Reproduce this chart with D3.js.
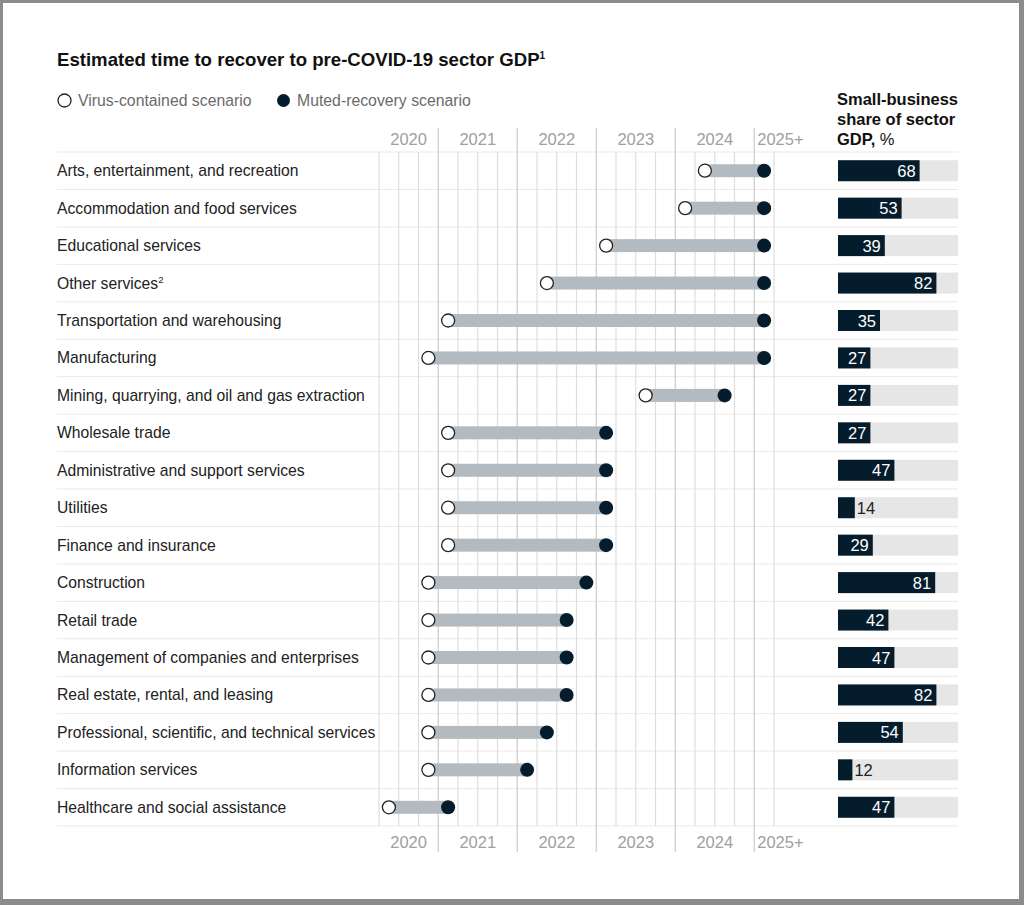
<!DOCTYPE html>
<html>
<head>
<meta charset="utf-8">
<script src="https://cdn.jsdelivr.net/npm/d3@7"></script>
<style>
  html, body { margin: 0; padding: 0; background: #fff; }
  svg { display: block; font-family: "Liberation Sans", Arial, sans-serif; }
</style>
</head>
<body>
<svg id="chart" width="1024" height="905"></svg>
<script>
// sectors, top to bottom
const sectors = [
  "Arts, entertainment, and recreation",
  "Accommodation and food services",
  "Educational services",
  "Other services",
  "Transportation and warehousing",
  "Manufacturing",
  "Mining, quarrying, and oil and gas extraction",
  "Wholesale trade",
  "Administrative and support services",
  "Utilities",
  "Finance and insurance",
  "Construction",
  "Retail trade",
  "Management of companies and enterprises",
  "Real estate, rental, and leasing",
  "Professional, scientific, and technical services",
  "Information services",
  "Healthcare and social assistance"
];
// recovery quarter, counted from Q2 2020 (0) ; 19 = 2025+
const virusQuarter = [16, 15, 11, 8, 3, 2, 13, 3, 3, 3, 3, 2, 2, 2, 2, 2, 2, 0];
const mutedQuarter = [19, 19, 19, 19, 19, 19, 17, 11, 11, 11, 11, 10, 9, 9, 9, 8, 7, 3];
// small-business share of sector GDP, %
const smallShare = [68, 53, 39, 82, 35, 27, 27, 27, 47, 14, 29, 81, 42, 47, 82, 54, 12, 47];
const yearLabels = ["2020", "2021", "2022", "2023", "2024", "2025+"];
const yearStart = [0, 3, 7, 11, 15, 19];
const yearEnd = [3, 7, 11, 15, 19, 20];

const dark = "#051c2c";
const connector = "#b3bbc0";

const svg = d3.select("#chart");

// frame
svg.append("rect").attr("x", 1.5).attr("y", 1.5).attr("width", 1019).attr("height", 899)
  .style("fill", "none").style("stroke", "#8c8c8c").style("stroke-width", 3);
svg.append("rect").attr("x", 1019).attr("y", 0).attr("width", 5).attr("height", 905).style("fill", "#8c8c8c");
svg.append("rect").attr("x", 0).attr("y", 899).attr("width", 1024).attr("height", 6).style("fill", "#8c8c8c");

// title
const title = svg.append("text").attr("x", 57).attr("y", 66)
  .style("font-size", "18.6px").style("font-weight", "bold").style("fill", "#111")
  .text("Estimated time to recover to pre-COVID-19 sector GDP");
title.append("tspan").attr("dy", -7).style("font-size", "10px").text("1");

// legend
const legend = svg.append("g");
legend.append("circle").attr("cx", 64.5).attr("cy", 100.5).attr("r", 6.5)
  .style("fill", "#fff").style("stroke", "#222").style("stroke-width", 1.3);
legend.append("text").attr("x", 78).attr("y", 106).style("font-size", "15.8px").style("fill", "#6b6b6b")
  .text("Virus-contained scenario");
legend.append("circle").attr("cx", 283.5).attr("cy", 100.5).attr("r", 6.5).style("fill", dark);
legend.append("text").attr("x", 297).attr("y", 106).style("font-size", "15.8px").style("fill", "#6b6b6b")
  .text("Muted-recovery scenario");

// scales
const x = d3.scaleLinear().domain([0, 20]).range([379, 774]);
const y = d3.scaleBand().domain(sectors).range([152, 826]);
const xs = d3.scaleLinear().domain([0, 100]).range([838, 958]);

// row separators
svg.append("g").selectAll("line")
  .data(d3.range(sectors.length + 1))
  .enter().append("line")
  .attr("x1", 57).attr("x2", 958)
  .attr("y1", i => 152 + i * y.step()).attr("y2", i => 152 + i * y.step())
  .style("stroke", "#e9e9e9").style("stroke-width", 1);

// quarter grid
svg.append("g").selectAll("line")
  .data(d3.range(21).filter(q => !yearStart.slice(1).includes(q)))
  .enter().append("line")
  .attr("x1", q => x(q)).attr("x2", q => x(q))
  .attr("y1", 152).attr("y2", 826)
  .style("stroke", "#dedede").style("stroke-width", 1.2);

// year dividers
svg.append("g").selectAll("line")
  .data(yearStart.slice(1))
  .enter().append("line")
  .attr("x1", q => x(q)).attr("x2", q => x(q))
  .attr("y1", 128).attr("y2", 852)
  .style("stroke", "#cfcfcf").style("stroke-width", 1.3);

// year labels, top and bottom
[145, 848].forEach(ty => {
  svg.append("g").selectAll("text")
    .data(yearLabels)
    .enter().append("text")
    .attr("x", (d, i) => i < 5 ? x((yearStart[i] + yearEnd[i]) / 2) : x(yearStart[i]) + 3)
    .attr("y", ty)
    .attr("text-anchor", (d, i) => i < 5 ? "middle" : "start")
    .style("font-size", "16.5px").style("fill", "#a0a0a0")
    .text(d => d);
});

// sector labels
const labels = svg.append("g").selectAll("text")
  .data(sectors)
  .enter().append("text")
  .attr("x", 57)
  .attr("y", d => y(d) + y.bandwidth() / 2 + 5.5)
  .style("font-size", "15.7px").style("fill", "#222")
  .text(d => d);
labels.filter(d => d === "Other services")
  .append("tspan").attr("dy", -6).style("font-size", "9.5px").text("2");

// connectors and dots
const rows = sectors.map((s, i) => ({ s, v: virusQuarter[i], m: mutedQuarter[i], share: smallShare[i] }));
const dots = svg.append("g");
dots.selectAll(".conn")
  .data(rows)
  .enter().append("rect")
  .attr("class", "conn")
  .attr("x", d => x(d.v + 0.5))
  .attr("y", d => y(d.s) + y.bandwidth() / 2 - 6.5)
  .attr("width", d => x(d.m + 0.5) - x(d.v + 0.5))
  .attr("height", 13)
  .style("fill", connector);
dots.selectAll(".muted")
  .data(rows)
  .enter().append("circle")
  .attr("class", "muted")
  .attr("cx", d => x(d.m + 0.5))
  .attr("cy", d => y(d.s) + y.bandwidth() / 2)
  .attr("r", 7)
  .style("fill", dark);
dots.selectAll(".virus")
  .data(rows)
  .enter().append("circle")
  .attr("class", "virus")
  .attr("cx", d => x(d.v + 0.5))
  .attr("cy", d => y(d.s) + y.bandwidth() / 2)
  .attr("r", 6.5)
  .style("fill", "#fff").style("stroke", "#222").style("stroke-width", 1.3);

// right panel header
const head = svg.append("g").style("font-size", "16.5px").style("fill", "#111");
head.append("text").attr("x", 837).attr("y", 105).style("font-weight", "bold").text("Small-business");
head.append("text").attr("x", 837).attr("y", 125).style("font-weight", "bold").text("share of sector");
const h3 = head.append("text").attr("x", 837).attr("y", 145);
h3.append("tspan").style("font-weight", "bold").text("GDP,");
h3.append("tspan").text(" %");

// right panel bars
const panel = svg.append("g");
panel.selectAll(".bg")
  .data(rows)
  .enter().append("rect")
  .attr("class", "bg")
  .attr("x", xs(0)).attr("width", xs(100) - xs(0))
  .attr("y", d => y(d.s) + y.bandwidth() / 2 - 10.5).attr("height", 21)
  .style("fill", "#e6e6e6");
panel.selectAll(".bar")
  .data(rows)
  .enter().append("rect")
  .attr("class", "bar")
  .attr("x", xs(0)).attr("width", d => xs(d.share) - xs(0))
  .attr("y", d => y(d.s) + y.bandwidth() / 2 - 10.5).attr("height", 21)
  .style("fill", dark);
panel.selectAll(".val")
  .data(rows)
  .enter().append("text")
  .attr("class", "val")
  .attr("x", d => d.share < 20 ? xs(d.share) + 2 : xs(d.share) - 4)
  .attr("y", d => y(d.s) + y.bandwidth() / 2 + 6)
  .attr("text-anchor", d => d.share < 20 ? "start" : "end")
  .style("font-size", "16.5px")
  .style("fill", d => d.share < 20 ? "#222" : "#fff")
  .text(d => d.share);
</script>
</body>
</html>
